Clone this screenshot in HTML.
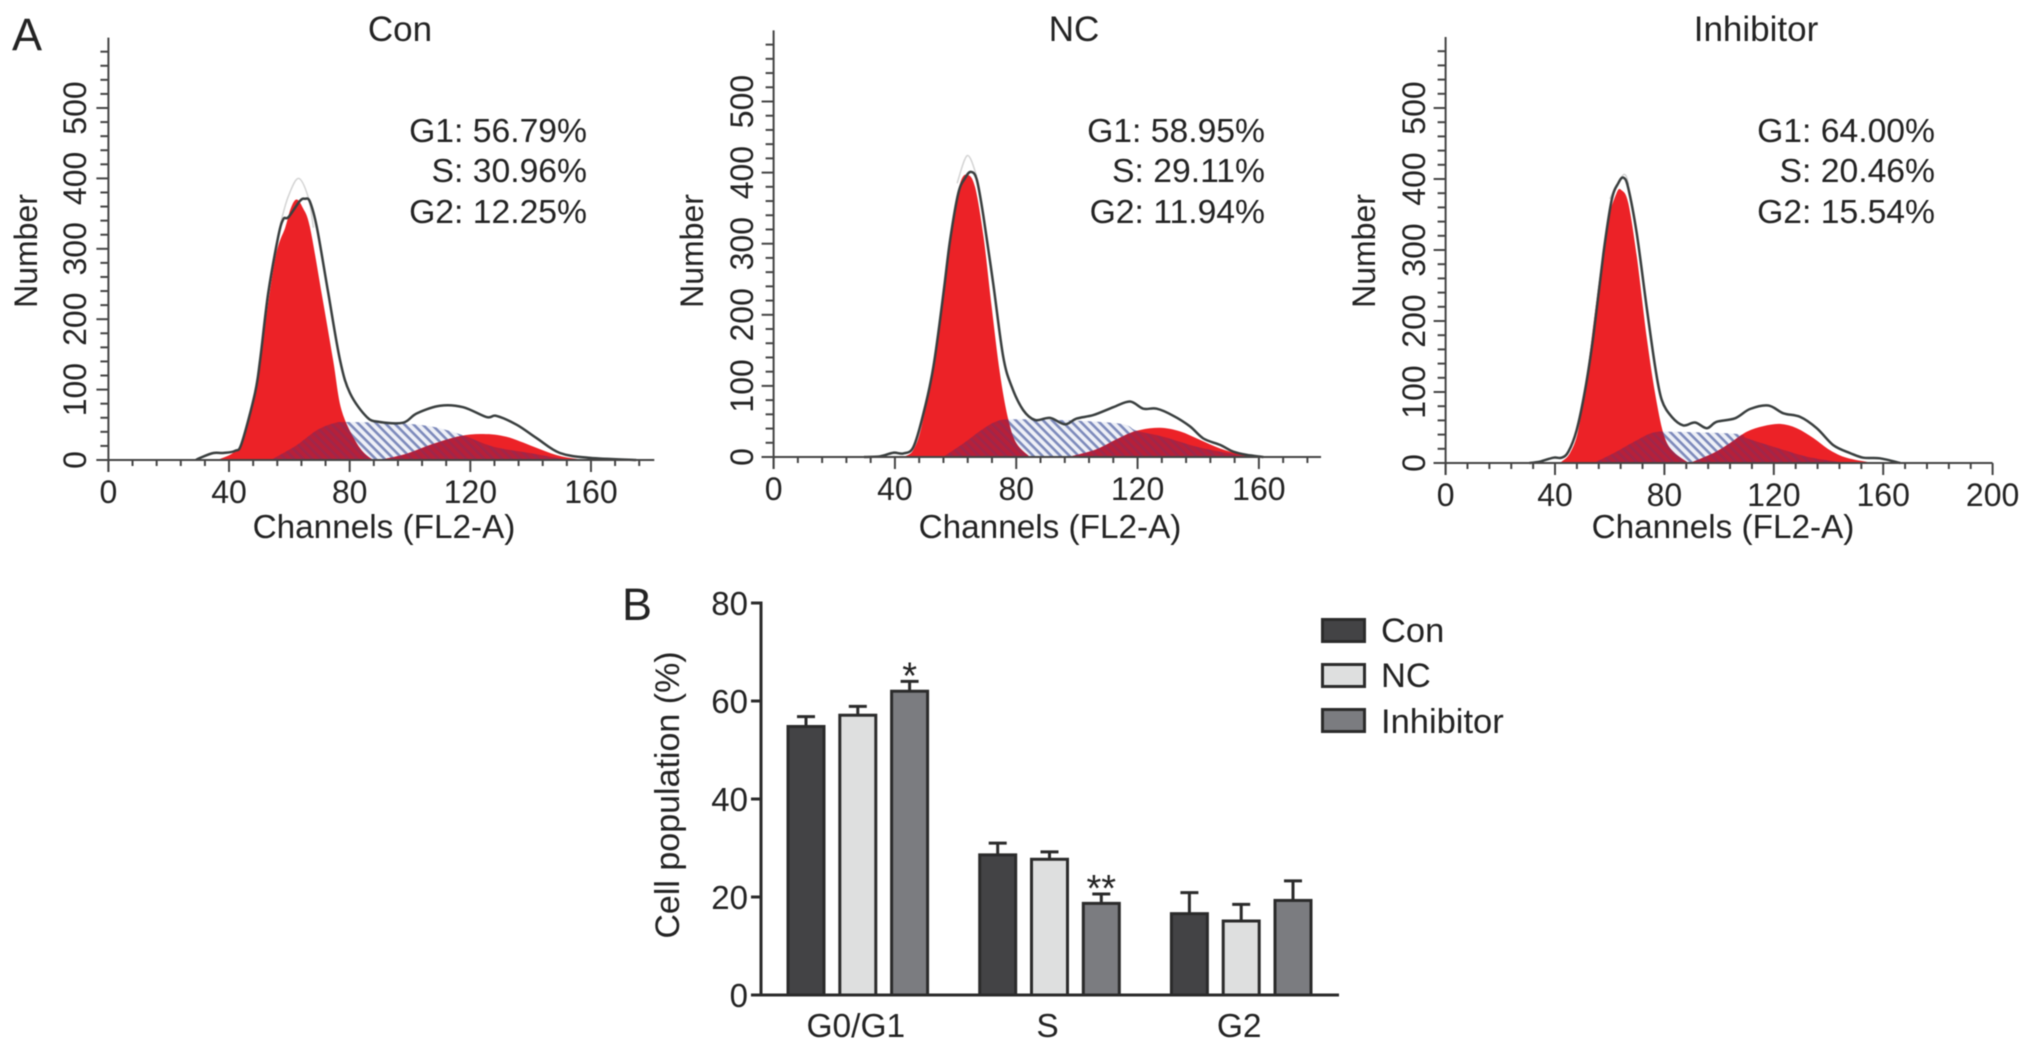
<!DOCTYPE html>
<html lang="en">
<head>
<meta charset="utf-8">
<title>Cell cycle distribution</title>
<style>
html,body{margin:0;padding:0;background:#fff;width:2032px;height:1051px;overflow:hidden}
svg{display:block;filter:blur(0.6px)}
text{font-family:"Liberation Sans",sans-serif;fill:#232323}
</style>
</head>
<body>
<svg id="fig" xmlns="http://www.w3.org/2000/svg" width="2032" height="1051" viewBox="0 0 2032 1051">
<defs>
<pattern id="hatch" patternUnits="userSpaceOnUse" width="6.4" height="6.4" patternTransform="rotate(45)">
<rect width="6.4" height="6.4" fill="#eef0f7"/><rect width="6.4" height="2.6" fill="#7d8abb"/>
</pattern>
<pattern id="hatchDark" patternUnits="userSpaceOnUse" width="6.4" height="6.4" patternTransform="rotate(45)">
<rect width="6.4" height="6.4" fill="#b6203a"/><rect width="6.4" height="2.6" fill="#a0264a"/>
</pattern>
</defs>
<rect width="2032" height="1051" fill="#fff"/>
<text x="12" y="50" font-size="45">A</text>
<text x="622" y="620" font-size="45">B</text>

<text x="400" y="41" font-size="35" text-anchor="middle">Con</text>
<text x="1074" y="41" font-size="35" text-anchor="middle">NC</text>
<text x="1756" y="41" font-size="35" text-anchor="middle">Inhibitor</text>

<g font-size="33.7" text-anchor="end">
<text x="587" y="142">G1: 56.79%</text>
<text x="587" y="182">S: 30.96%</text>
<text x="587" y="223">G2: 12.25%</text>
<text x="1265" y="142">G1: 58.95%</text>
<text x="1265" y="182">S: 29.11%</text>
<text x="1265" y="223">G2: 11.94%</text>
<text x="1935" y="142">G1: 64.00%</text>
<text x="1935" y="182">S: 20.46%</text>
<text x="1935" y="223">G2: 15.54%</text>
</g>

<g font-size="33.3" text-anchor="middle">
<text x="384" y="538">Channels (FL2-A)</text>
<text x="1050" y="538">Channels (FL2-A)</text>
<text x="1723" y="538">Channels (FL2-A)</text>
<text transform="translate(37,251) rotate(-90)" font-size="32">Number</text>
<text transform="translate(703,251) rotate(-90)" font-size="32">Number</text>
<text transform="translate(1375,251) rotate(-90)" font-size="32">Number</text>
<text transform="translate(679,795) rotate(-90)" font-size="34">Cell population (%)</text>
</g>

<g id="panels"></g>
<g id="bars"></g>

<g>
<rect x="1322.5" y="619.5" width="42" height="22" fill="#434345" stroke="#2b2b2b" stroke-width="3"/>
<rect x="1322.5" y="664.5" width="42" height="22" fill="#dedfdf" stroke="#2b2b2b" stroke-width="3"/>
<rect x="1322.5" y="709.5" width="42" height="22" fill="#7b7c80" stroke="#2b2b2b" stroke-width="3"/>
<text x="1381" y="642" font-size="34.5">Con</text>
<text x="1381" y="687" font-size="34.5">NC</text>
<text x="1381" y="733" font-size="34.5">Inhibitor</text>
</g>
</svg>

<script>
/* ---------- histogram data (channel, number) ---------- */
var conOutlineCh = [29,30.4,34.8,38,42,44.2,48.6,50.3,53,56.3,58,59.7,63.5,65.2,66.8,69.1,72.9,76.8,80.1,85.7,90,97.7,102.2,110,117.6,125.4,128.7,135.4,142,149.7,159.7,175];
var conOutlineN  = [0,3,10,10,13,24,95,142,237,317,342,345,368,371,367,331,237,142,95,61,54,53,66,77,75,61,62.6,50,31,10,3,0];
var conRawCh = [57,59.6,63,66.2,68];
var conRawN  = [335,374,400,374,330];
var conG1Ch = [36,40.9,44.2,48.6,50.3,55.2,58.7,60.5,62.4,64.5,66.8,70.7,74.5,77.3,82.3,86.7,90];
var conG1N  = [0,9,24,95,142,284,331,358,370,358,331,237,142,71,24,3,0];
var conG2Ch = [90,98.9,107.8,116.6,124.3,132,140.9,148.6,155.3,160.8];
var conG2N  = [0,9,23,34,37,33,19,7,1.5,0];
var conSCh = [54,54.7,62.4,69,74.6,79,96.7,107.8,117.7,127.6,141,150.9,153];
var conSN  = [0,2,21,42,52,54,52,47,35,19,9,1.5,0];

var ncOutlineCh = [29.8,35.1,39.5,42.8,46.1,49.4,52.7,56,58.2,60.9,63.1,65,67,69.2,72.4,75.7,78.5,82.3,86.2,91.1,96.1,99.9,105.4,112,117.5,121.9,126.3,131.8,137.3,141.7,147.2,151.6,156,161.5];
var ncOutlineN  = [0,1,6,5,14,61,127,230,305,371,392,401,390,338,244,141,99,66,52,55,46,54,59,70,78,68,68,58,43,26,17,7.5,3,0];
var ncRawCh = [60.5,63.9,67];
var ncRawN  = [385,424,395];
var ncG1Ch = [41,43.3,46.1,48.8,52.7,56,58.7,61.5,63.9,66.4,69.2,71.9,74.6,77.4,80.1,84.5];
var ncG1N  = [0,1,10,43,127,230,324,385,397,380,310,211,118,52,19,0];
var ncG2Ch = [97,99.9,106.5,113.1,119.7,127.4,134,140.6,147.2,153.8,160.4];
var ncG2N  = [0,3,11,25,37,41,36,24,12,4,0];
var ncSCh = [55.9,62.5,69.2,73.5,78,94.4,114.2,119.7,128.5,139.5,150.5,157];
var ncSN  = [0,19,40,50,53,52,47,37,28.6,14.5,5,0];

var inhOutlineCh = [30.6,34.5,39.4,42.4,44.9,47.9,51,54,57.7,60.7,63.1,65,66.8,69.9,73.5,76.6,79,82.7,86.9,91.2,95.5,99.1,105.8,111.3,118,123.5,129.6,135.7,141.8,147.9,152.7,158.8,166.2];
var inhOutlineN  = [0,2,7.5,7.5,16,46,103,178,295,370,394,402,387,323,220,136,89,65,53,57,49,58,63,76,81,70,65,49,25,14,7.5,6.6,0];
var inhRawCh = [60,65,67];
var inhRawN  = [372,406,392];
var inhG1Ch = [41,42.4,45.5,48.5,51.6,55.2,58.9,62.5,64.4,66.8,69.9,73.5,76.6,79.6,82.7,88.1,89.4];
var inhG1N  = [0,2,14,46,122,230,333,380,384,366,291,178,98,42,18,2,0];
var inhG2Ch = [89,90.6,97.9,104,110.1,116.2,122.3,128.4,134.5,140.6,146.6,155.2,158.8];
var inhG2N  = [0,2,14,28,44,52,55,49,35,18,7.5,1,0];
var inhSCh = [54,55.2,62.5,69.9,76,83.3,106.4,110.1,119.8,132,143,146.6];
var inhSN  = [0,2,16,32,43,44,41,35,23,9,2,0];

var histXTicksShort = [0,40,80,120,160];
var histXTicksLong  = [0,40,80,120,160,200];
var histYTicks = [0,100,200,300,400,500];

/* ---------- bar chart data ---------- */
var barCategories = ["G0/G1","S","G2"];
var barYTicks = [0,20,40,60,80];
var barCon = [54.8,28.6,16.6];
var barNC  = [57.1,27.7,15.1];
var barInh = [62,18.7,19.3];
var barConTop = [56.8,31,20.9];
var barNCTop  = [58.9,29.2,18.5];
var barInhTop = [64,20.6,23.3];
var barInhMarks = ["*","**",""];

/* ---------- helpers ---------- */
var NS = "http://www.w3.org/2000/svg";
var clipCounter = 0;
function mk(parent, tag, attrs) {
  var el = document.createElementNS(NS, tag);
  for (var k in attrs) el.setAttribute(k, attrs[k]);
  parent.appendChild(el);
  return el;
}
function smooth(pts) {
  var d = "M" + pts[0][0].toFixed(1) + "," + pts[0][1].toFixed(1);
  for (var i = 0; i < pts.length - 1; i++) {
    var p0 = pts[Math.max(i - 1, 0)], p1 = pts[i], p2 = pts[i + 1], p3 = pts[Math.min(i + 2, pts.length - 1)];
    var c1x = p1[0] + (p2[0] - p0[0]) / 6, c1y = p1[1] + (p2[1] - p0[1]) / 6;
    var c2x = p2[0] - (p3[0] - p1[0]) / 6, c2y = p2[1] - (p3[1] - p1[1]) / 6;
    d += "C" + c1x.toFixed(1) + "," + c1y.toFixed(1) + " " + c2x.toFixed(1) + "," + c2y.toFixed(1) + " " + p2[0].toFixed(1) + "," + p2[1].toFixed(1);
  }
  return d;
}
function curve(chs, ns, sx, sy) {
  return smooth(chs.map(function (c, i) { return [sx(c), sy(ns[i])]; }));
}
function area(chs, ns, sx, sy) {
  return curve(chs, ns, sx, sy) + "Z";
}

/* ---------- histogram panel ---------- */
function drawPanel(cfg) {
  var root = document.getElementById("panels");
  var g = mk(root, "g", {});
  
  
  var sx = function (v) { return cfg.x0 + v * cfg.kx; };
  var sy = function (v) { return cfg.y0 - v * cfg.ky; };

  var sArea = area(cfg.sCh, cfg.sN, sx, sy);
  var g1Area = area(cfg.g1Ch, cfg.g1N, sx, sy);
  var g2Area = area(cfg.g2Ch, cfg.g2N, sx, sy);

  var sPath = mk(g, "path", { d: sArea, fill: "url(#hatch)" });
  
  
  var g1Path = mk(g, "path", { d: g1Area, fill: "#ec2227" });
  
  
  var g2Path = mk(g, "path", { d: g2Area, fill: "#ec2227" });
  
  

  clipCounter++;
  var clipId = "sClip" + clipCounter;
  var clip = mk(g, "clipPath", { id: clipId });
  mk(clip, "path", { d: sArea });
  var over1 = mk(g, "path", { d: g1Area, fill: "url(#hatchDark)", "clip-path": "url(#" + clipId + ")" });
  
  
  var over2 = mk(g, "path", { d: g2Area, fill: "url(#hatchDark)", "clip-path": "url(#" + clipId + ")" });
  
  

  var raw = mk(g, "path", { d: curve(cfg.rawCh, cfg.rawN, sx, sy), fill: "none", stroke: "#d4d4d4", "stroke-width": 1.5 });
  
  
  var outline = mk(g, "path", { d: curve(cfg.outCh, cfg.outN, sx, sy), fill: "none", stroke: "#3a3f3f", "stroke-width": 2.5 });
  
  

  var axColor = "#444";
  var xAxis = mk(g, "line", { x1: cfg.x0 - 12, x2: sx(cfg.xEnd), y1: cfg.y0, y2: cfg.y0, stroke: axColor, "stroke-width": 2 });
  
  
  var yAxis = mk(g, "line", { x1: cfg.x0, x2: cfg.x0, y1: cfg.y0 + 12, y2: sy(600), stroke: axColor, "stroke-width": 2 });
  
  

  var v, t;
  for (v = 0; v <= cfg.xMinorEnd; v += 8) {
    var major = v % 40 === 0;
    t = mk(g, "line", { x1: sx(v), x2: sx(v), y1: cfg.y0, y2: cfg.y0 + (major ? 12 : 6), stroke: axColor, "stroke-width": 2 });
    
    
  }
  for (v = 0; v <= 580; v += 20) {
    var majorY = v % 100 === 0;
    t = mk(g, "line", { x1: cfg.x0 - (majorY ? 12 : 8), x2: cfg.x0, y1: sy(v), y2: sy(v), stroke: axColor, "stroke-width": 2 });
    
    
  }
  cfg.xTicks.forEach(function (val) {
    var lab = mk(g, "text", { x: sx(val), y: cfg.y0 + 43, "font-size": 32, "text-anchor": "middle" });
    lab.textContent = val;
    
    
  });
  histYTicks.forEach(function (val) {
    var lab = mk(g, "text", { transform: "translate(" + cfg.labelX + "," + sy(val) + ") rotate(-90)", "font-size": 32, "text-anchor": "middle" });
    lab.textContent = val;
    
    
  });
}

drawPanel({ name: "con", x0: 108.4, y0: 460, kx: 3.016, ky: 0.704, xEnd: 181, xMinorEnd: 176, labelX: 86, xTicks: histXTicksShort,
  outCh: conOutlineCh, outN: conOutlineN, rawCh: conRawCh, rawN: conRawN, g1Ch: conG1Ch, g1N: conG1N, g2Ch: conG2Ch, g2N: conG2N, sCh: conSCh, sN: conSN });
drawPanel({ name: "nc", x0: 773.6, y0: 457, kx: 3.033, ky: 0.711, xEnd: 180.5, xMinorEnd: 176, labelX: 753, xTicks: histXTicksShort,
  outCh: ncOutlineCh, outN: ncOutlineN, rawCh: ncRawCh, rawN: ncRawN, g1Ch: ncG1Ch, g1N: ncG1N, g2Ch: ncG2Ch, g2N: ncG2N, sCh: ncSCh, sN: ncSN });
drawPanel({ name: "inhibitor", x0: 1445.6, y0: 463, kx: 2.735, ky: 0.71, xEnd: 200, xMinorEnd: 200, labelX: 1425, xTicks: histXTicksLong,
  outCh: inhOutlineCh, outN: inhOutlineN, rawCh: inhRawCh, rawN: inhRawN, g1Ch: inhG1Ch, g1N: inhG1N, g2Ch: inhG2Ch, g2N: inhG2N, sCh: inhSCh, sN: inhSN });

/* ---------- bar chart ---------- */
(function () {
  var g = document.getElementById("bars");
  var axisX = 761, baseY = 995, topY = 603, barW = 36;
  var groupStart = 788, groupStep = 191.7, barStep = 51.8;
  var sy = function (v) { return baseY - v * (baseY - topY) / 80; };
  var seriesVals = [barCon, barNC, barInh];
  var seriesTops = [barConTop, barNCTop, barInhTop];
  var seriesFill = ["#434345", "#dedfdf", "#7b7c80"];
  var seriesName = ["con", "nc", "inhibitor"];
  var ink = "#2b2b2b";

  barCategories.forEach(function (cat, c) {
    var gx = groupStart + c * groupStep;
    seriesVals.forEach(function (vals, s) {
      var x = gx + s * barStep;
      var cx = x + barW / 2;
      var stem = mk(g, "line", { x1: cx, x2: cx, y1: sy(vals[c]), y2: sy(seriesTops[s][c]), stroke: ink, "stroke-width": 3 });
      
      
      var cap = mk(g, "line", { x1: cx - 9, x2: cx + 9, y1: sy(seriesTops[s][c]), y2: sy(seriesTops[s][c]), stroke: ink, "stroke-width": 3 });
      
      
      var bar = mk(g, "rect", { x: x, y: sy(vals[c]), width: barW, height: baseY - sy(vals[c]), fill: seriesFill[s], stroke: ink, "stroke-width": 3 });
      
      
    });
    var lab = mk(g, "text", { x: gx + barStep + barW / 2 - 2, y: 1037, "font-size": 33.5, "text-anchor": "middle" });
    lab.textContent = cat;
    
    
    if (barInhMarks[c]) {
      var mark = mk(g, "text", { x: gx + 2 * barStep + barW / 2, y: sy(barInhTop[c]) + 7, "font-size": 38, "text-anchor": "middle" });
      mark.textContent = barInhMarks[c];
      
      
    }
  });

  var yAxis = mk(g, "line", { x1: axisX, x2: axisX, y1: topY - 1.5, y2: baseY + 1.5, stroke: ink, "stroke-width": 3 });
  
  
  var xAxis = mk(g, "line", { x1: 752, x2: 1339, y1: baseY, y2: baseY, stroke: ink, "stroke-width": 3 });
  
  

  barYTicks.forEach(function (val) {
    var tick = mk(g, "line", { x1: axisX - 10, x2: axisX, y1: sy(val), y2: sy(val), stroke: ink, "stroke-width": 3 });
    
    
    var lab = mk(g, "text", { x: axisX - 13, y: sy(val) + 12, "font-size": 33, "text-anchor": "end" });
    lab.textContent = val;
    
    
  });
})();
</script>
</body>
</html>
